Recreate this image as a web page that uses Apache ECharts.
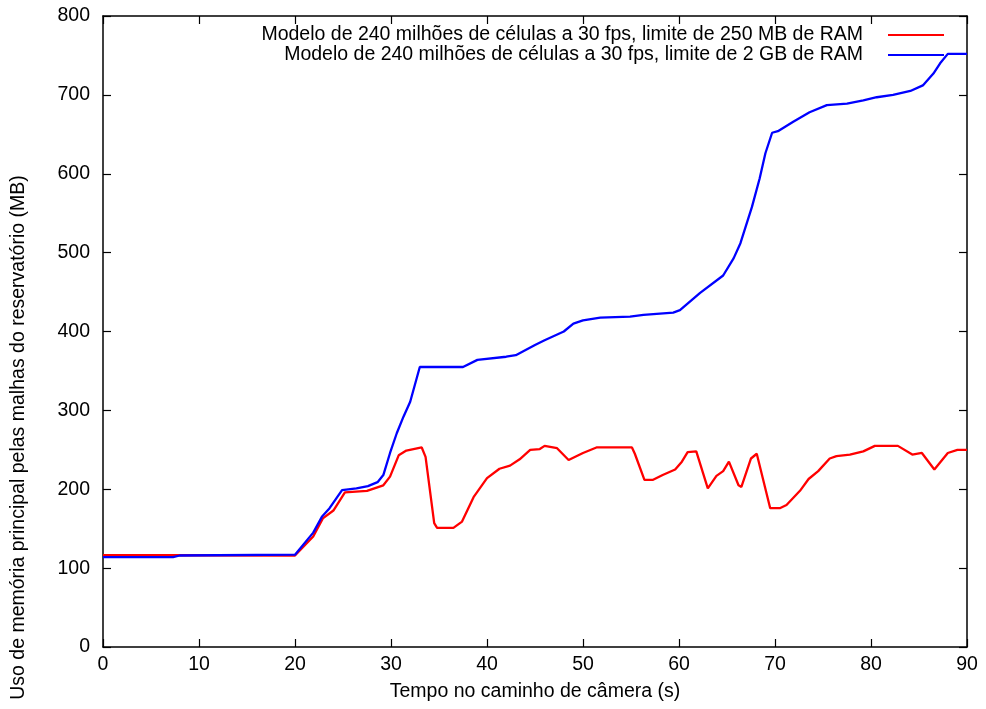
<!DOCTYPE html>
<html>
<head>
<meta charset="utf-8">
<script src="https://cdn.jsdelivr.net/npm/echarts@6/dist/echarts.min.js"></script>
<style>html,body{margin:0;padding:0;background:#fff}#c{width:986px;height:709px}</style>
</head>
<body>
<div id="c"></div>
<script>
const xTicks = [0, 10, 20, 30, 40, 50, 60, 70, 80, 90];
const yTicks = [0, 100, 200, 300, 400, 500, 600, 700, 800];
const seriesNames = [
  "Modelo de 240 milhões de células a 30 fps, limite de 250 MB de RAM",
  "Modelo de 240 milhões de células a 30 fps, limite de 2 GB de RAM"
];
const redT = [0, 7.3, 20, 20.2, 21.9, 22.9, 24, 25.2, 27.5, 29.2, 29.9, 30.8, 31.6, 33.2, 33.6, 34.5, 34.8, 36.5, 37.4, 38.6, 40, 41.3, 42.4, 43.4, 44.5, 45.5, 46, 47.3, 48.5, 50, 51.4, 55.1, 55.4, 56.4, 57.3, 58.3, 59.6, 60.3, 60.9, 61.8, 63, 63.9, 64.6, 65.2, 66.2, 66.5, 67.5, 68.1, 69.5, 70.5, 71.2, 72.6, 73.5, 74.5, 75.7, 76.4, 77.8, 79.2, 80.4, 81.3, 82.8, 84.3, 85.3, 86.6, 88, 89, 90];
const redMB = [116.5, 116.3, 116, 117, 140, 163, 173, 196, 198, 205, 216, 243, 249, 253, 241, 157, 151, 151, 159, 190, 214, 226, 230, 238, 250, 251, 255, 252, 237, 246, 253, 253, 245, 212, 212, 218, 225, 235, 247, 248, 201, 217, 223, 235, 205, 203, 239, 245, 176, 176, 180, 198, 213, 223, 239, 242, 244, 248, 255, 255, 255, 244, 246, 225, 246, 250, 250];
const blueT = [0, 7.3, 8, 20, 21.9, 22.8, 23.6, 24.9, 26.4, 27.6, 28.6, 29.2, 29.9, 30.6, 31.3, 32, 33, 37.5, 39, 42, 43, 45, 46, 48, 49, 50, 51.8, 54.9, 56.3, 59.4, 60.1, 62.2, 64.6, 65.7, 66.4, 67.6, 68.4, 69, 69.7, 70.3, 71.9, 73.6, 75.4, 77.5, 79.2, 80.6, 82.3, 84.1, 85.4, 86.5, 87.2, 88, 90];
const blueMB = [114, 114, 116, 117, 145, 165, 176, 199, 201, 204, 209, 218, 246, 271, 292, 311, 355, 355, 364, 368, 370, 383, 389, 400, 410, 414, 417.5, 418.8, 421, 424, 427, 449, 471, 493, 512, 558, 594, 626, 652, 654, 666, 678, 687, 689, 693, 697, 700, 705, 712, 727, 740, 752, 752];

const pairs = (xs, ys) => xs.map((x, i) => [x, ys[i]]);
const font = "Liberation Sans, Arial, sans-serif";
const fs = 19.5;
const chart = echarts.init(document.getElementById('c'), null, {renderer: 'canvas'});
const baseAxis = {
  axisLine: {show: true, onZero: false, lineStyle: {color: '#000', width: 1.5}},
  axisTick: {show: true, inside: true, length: 8, lineStyle: {color: '#000', width: 1.2}},
  splitLine: {show: false}
};
chart.setOption({
  animation: false,
  backgroundColor: '#fff',
  grid: {left: 103, right: 19, top: 16, bottom: 62, containLabel: false},
  legend: {
    data: seriesNames,
    orient: 'vertical',
    right: 37,
    top: 20,
    align: 'right',
    itemGap: 0,
    itemWidth: 56,
    itemHeight: 20,
    icon: 'path://M0,9 L56,9 L56,11 L0,11 Z',
    textStyle: {fontFamily: font, fontSize: fs, lineHeight: 20, color: '#000', padding: [0, 20, 0, 0]},
    selectedMode: false
  },
  xAxis: [
    Object.assign({}, baseAxis, {
      type: 'value', min: 0, max: 90, interval: 10, position: 'bottom',
      name: 'Tempo no caminho de câmera (s)', nameLocation: 'middle', nameGap: 35,
      nameTextStyle: {fontFamily: font, fontSize: fs, color: '#000'},
      axisLabel: {fontFamily: font, fontSize: fs, color: '#000', margin: 8,
        formatter: v => xTicks.includes(v) ? String(v) : ''}
    }),
    Object.assign({}, baseAxis, {
      type: 'value', min: 0, max: 90, interval: 10, position: 'top',
      axisLabel: {show: false}
    })
  ],
  yAxis: [
    Object.assign({}, baseAxis, {
      type: 'value', min: 0, max: 800, interval: 100, position: 'left',
      name: 'Uso de memória principal pelas malhas do reservatório (MB)', nameLocation: 'middle', nameGap: 74,
      nameTextStyle: {fontFamily: font, fontSize: fs, color: '#000', padding: [0, 212, 0, 0]},
      axisLabel: {fontFamily: font, fontSize: fs, color: '#000', margin: 13,
        formatter: v => yTicks.includes(v) ? String(v) : ''}
    }),
    Object.assign({}, baseAxis, {
      type: 'value', min: 0, max: 800, interval: 100, position: 'right',
      axisLabel: {show: false}
    })
  ],
  series: [
    {name: seriesNames[0], type: 'line', data: pairs(redT, redMB), showSymbol: false,
      color: '#ff0000', lineStyle: {color: '#ff0000', width: 2.3}, z: 2},
    {name: seriesNames[1], type: 'line', data: pairs(blueT, blueMB), showSymbol: false,
      color: '#0000ff', lineStyle: {color: '#0000ff', width: 2.3}, z: 3}
  ]
});
</script>
</body>
</html>
